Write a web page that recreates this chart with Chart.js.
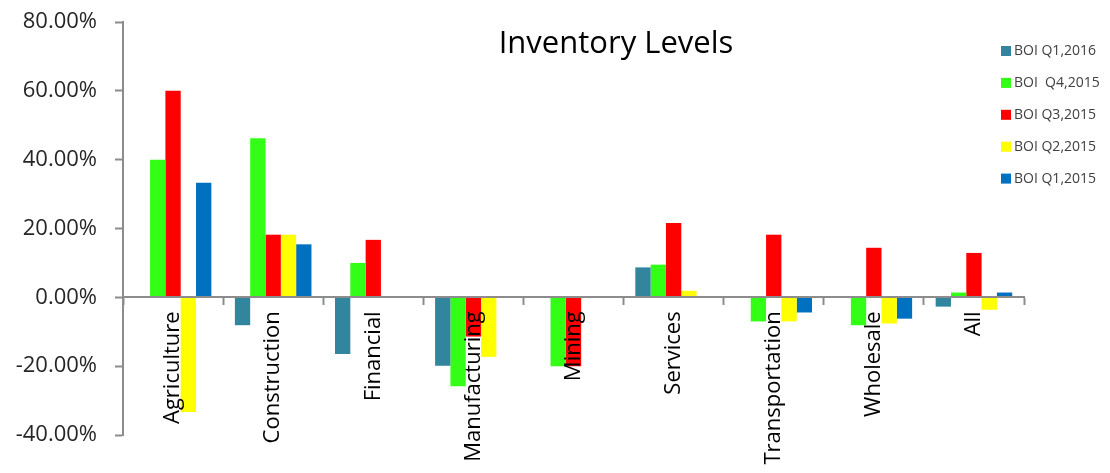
<!DOCTYPE html>
<html>
<head>
<meta charset="utf-8">
<title>Inventory Levels</title>
<script src="https://cdn.jsdelivr.net/npm/chart.js@4/dist/chart.umd.min.js"></script>
<style>
  html, body { margin: 0; padding: 0; background: #ffffff; }
  #chart { display: block; }
</style>
</head>
<body>
<canvas id="chart" width="1110" height="473"></canvas>
<script>
// Sectors surveyed
const categories = ["Agriculture", "Construction", "Financial", "Manufacturing", "Mining",
                    "Services", "Transportation", "Wholesale", "All"];

// Inventory level balance per survey round (percent)
const boiQ1_2016 = [0, -8.1, -16.5, -19.9, 0, 8.7, 0, 0, -2.7];
const boiQ4_2015 = [40, 46.2, 10, -25.8, -20, 9.5, -7, -8.1, 1.4];
const boiQ3_2015 = [60, 18.2, 16.7, -11.4, -20, 21.6, 18.2, 14.4, 12.9];
const boiQ2_2015 = [-33.3, 18.2, 0, -17.3, 0, 1.9, -7, -7.6, -3.6];
const boiQ1_2015 = [33.3, 15.4, 0, 0, 0, 0, -4.4, -6.2, 1.4];

const seriesLabels = ["BOI Q1,2016", "BOI  Q4,2015", "BOI Q3,2015", "BOI Q2,2015", "BOI Q1,2015"];
const seriesColors = ["#31859C", "#33FF16", "#FF0000", "#FFFF00", "#0070C0"];

// Y axis range and step (percent)
const yMin = -40, yMax = 80, yStep = 20;

const chartTitle = "Inventory Levels";

const axisGrey = "#8C8C8C";
const textDark = "#262626";
const FONT = "'Open Sans', 'Noto Sans', sans-serif";

const seriesValues = [boiQ1_2016, boiQ4_2015, boiQ3_2015, boiQ2_2015, boiQ1_2015];

// Title and right-hand legend drawn on top of the plot area
const overlayPlugin = {
  id: "overlay",
  afterDraw(chart) {
    const ctx = chart.ctx;
    ctx.save();
    ctx.fillStyle = "#000000";
    ctx.font = "31px " + FONT;
    ctx.textAlign = "center";
    ctx.textBaseline = "alphabetic";
    ctx.fillText(chartTitle, 616, 53);

    ctx.font = "14px " + FONT;
    ctx.textAlign = "left";
    ctx.textBaseline = "middle";
    chart.data.datasets.forEach((ds, i) => {
      const cy = 51 + i * 31.9;
      ctx.fillStyle = ds.backgroundColor;
      ctx.fillRect(1001, cy - 5, 10, 10);
      ctx.fillStyle = "#404040";
      ctx.fillText(ds.label, 1014, cy);
    });
    ctx.restore();
  }
};

new Chart(document.getElementById("chart"), {
  type: "bar",
  data: {
    labels: categories,
    datasets: seriesValues.map((vals, i) => ({
      label: seriesLabels[i],
      data: vals,
      backgroundColor: seriesColors[i],
      borderWidth: 0,
      categoryPercentage: 0.765,
      barPercentage: 1.0
    }))
  },
  options: {
    responsive: false,
    animation: false,
    layout: { padding: { left: 0, right: 86, top: 22, bottom: 38 } },
    plugins: {
      legend: { display: false },
      title: { display: false },
      tooltip: { enabled: false }
    },
    scales: {
      x: {
        position: { y: 0 },
        grid: {
          display: true,
          drawOnChartArea: false,
          drawTicks: true,
          tickLength: 7,
          tickWidth: 2,
          color: axisGrey,
          offset: true,
          z: 1
        },
        border: { display: true, color: axisGrey, width: 2, z: 1 },
        ticks: {
          z: 1,
          autoSkip: false,
          minRotation: 90,
          maxRotation: 90,
          padding: 7,
          color: "#000000",
          font: { family: FONT, size: 22 }
        }
      },
      y: {
        min: yMin,
        max: yMax,
        afterFit(scale) {
          scale.width = 123;
          scale.paddingTop = 0;
          scale.paddingBottom = 0;
        },
        grid: {
          display: true,
          drawOnChartArea: false,
          drawTicks: true,
          tickLength: 8,
          tickWidth: 2,
          color: axisGrey
        },
        border: { display: true, color: axisGrey, width: 2 },
        ticks: {
          stepSize: yStep,
          padding: 18,
          color: textDark,
          font: { family: FONT, size: 22 },
          callback: (v) => v.toFixed(2) + "%"
        }
      }
    }
  },
  plugins: [overlayPlugin]
});
</script>
</body>
</html>
